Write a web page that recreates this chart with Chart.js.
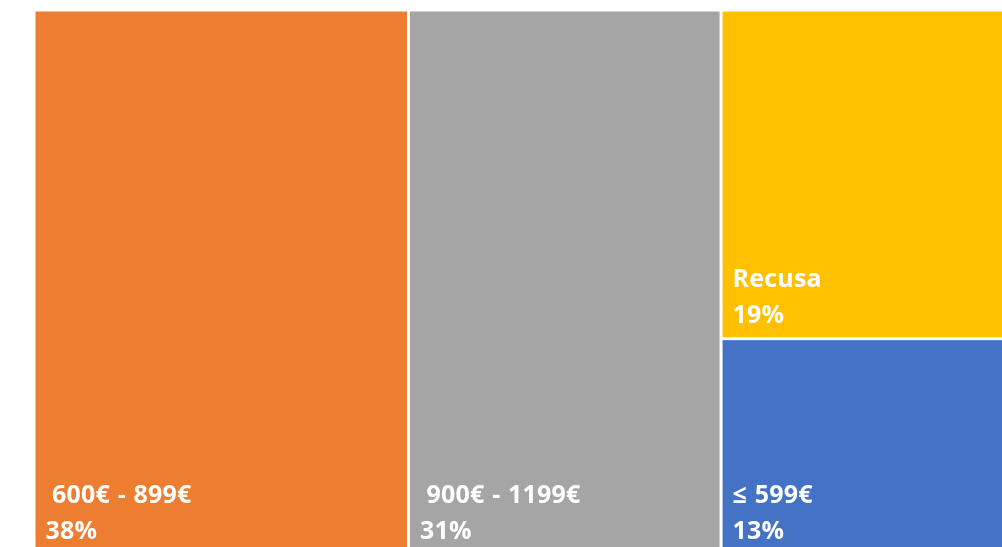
<!DOCTYPE html>
<html>
<head>
<meta charset="utf-8">
<script src="https://cdn.jsdelivr.net/npm/chart.js@4/dist/chart.umd.min.js"></script>
<style>
html,body{margin:0;padding:0;background:#fff;}
#wrap{width:1002px;height:547px;position:relative;}
</style>
</head>
<body>
<div id="wrap"><canvas id="c"></canvas></div>
<script>
// ---- data ----
const categories = [' 600€ - 899€', ' 900€ - 1199€', 'Recusa', '≤ 599€'];
const shareValues = [37.5, 31.3, 18.9, 12.5];
const shareLabels = ['38%', '31%', '19%', '13%'];
const cellColors = ['#ED7D31', '#A5A5A5', '#FFC000', '#4472C4'];
const columnGroups = [[0], [1], [2, 3]];

// ---- treemap layout (slice columns, dice within columns) in data units ----
const cells = [];
let xCursor = 0;
columnGroups.forEach(group => {
  const colSum = group.reduce((s, i) => s + shareValues[i], 0);
  let yCursor = 0;
  group.forEach(i => {
    const h = shareValues[i] / colSum * 100;
    cells.push({x: xCursor, y: yCursor, x2: xCursor + colSum, y2: yCursor + h, idx: i});
    yCursor += h;
  });
  xCursor += colSum;
});

const treemapPlugin = {
  id: 'treemapCells',
  afterDatasetsDraw(chart) {
    const {ctx, chartArea, scales: {x, y}} = chart;
    const meta = chart.data.datasets[0].data;
    ctx.save();
    ctx.beginPath();
    ctx.rect(chartArea.left, chartArea.top, chartArea.right - chartArea.left, chartArea.bottom - chartArea.top);
    ctx.clip();
    const gap = 1.5;
    meta.forEach(c => {
      const l = x.getPixelForValue(c.x) + gap;
      const r = x.getPixelForValue(c.x2) - gap;
      const t = y.getPixelForValue(c.y) + gap;
      const b = y.getPixelForValue(c.y2) - gap;
      ctx.fillStyle = cellColors[c.idx];
      ctx.fillRect(l, t, r - l, b - t);
    });
    ctx.fillStyle = '#ffffff';
    ctx.font = 'bold 25px "Open Sans"';
    ctx.textAlign = 'left';
    ctx.textBaseline = 'alphabetic';
    const spaceW = ctx.measureText(' ').width;
    ctx.letterSpacing = '0.2px';
    ctx.wordSpacing = '1px';
    meta.forEach(c => {
      const l = x.getPixelForValue(c.x) + gap;
      const b = Math.min(y.getPixelForValue(c.y2) - gap, 553);
      const base2 = b - 14;
      ctx.fillText(shareLabels[c.idx], l + 10, base2);
      const txt = categories[c.idx];
      const lead = txt.length - txt.trimStart().length;
      ctx.fillText(txt.trimStart(), l + 10 + lead * spaceW, base2 - 36);
    });
    ctx.restore();
  }
};

function draw() {
  new Chart(document.getElementById('c'), {
    type: 'scatter',
    data: {
      datasets: [{
        data: cells,
        pointRadius: 0,
        pointHoverRadius: 0,
        showLine: false
      }]
    },
    options: {
      responsive: true,
      maintainAspectRatio: false,
      animation: false,
      parsing: false,
      layout: {padding: {left: 34, top: 10, right: 0, bottom: 0}},
      plugins: {legend: {display: false}, tooltip: {enabled: false}},
      scales: {
        x: {type: 'linear', display: false, min: 0, max: 96.93},
        y: {type: 'linear', display: false, min: 0, max: 98.35, reverse: true}
      }
    },
    plugins: [treemapPlugin]
  });
}
if (document.fonts && document.fonts.load) {
  document.fonts.load('bold 25px "Open Sans"').then(draw, draw);
} else { draw(); }
</script>
</body>
</html>
